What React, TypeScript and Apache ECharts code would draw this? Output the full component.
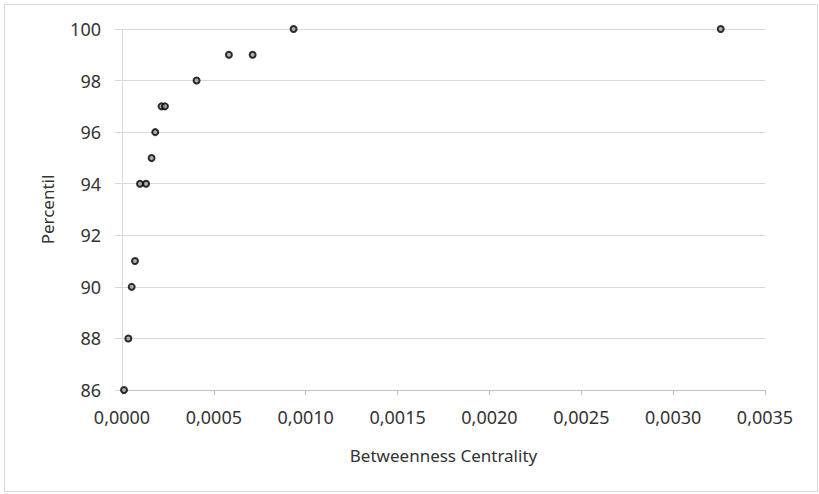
import React, { useEffect, useRef } from "react";
import * as echarts from "echarts";

const xTicks = [0, 0.0005, 0.001, 0.0015, 0.002, 0.0025, 0.003, 0.0035];
const yTicks = [86, 88, 90, 92, 94, 96, 98, 100];
const centrality = [
  0.0000109, 0.0000344, 0.0000527, 0.0000707, 0.000098, 0.000131, 0.000161,
  0.000181, 0.000215, 0.000234, 0.000406, 0.000582, 0.000711, 0.000934, 0.003259,
];
const percentil = [86, 88, 90, 91, 94, 94, 95, 96, 97, 97, 98, 99, 99, 100, 100];

const font = "'Noto Sans', sans-serif";

export default function App() {
  const ref = useRef<HTMLDivElement>(null);
  useEffect(() => {
    if (!ref.current) return;
    const chart = echarts.init(ref.current, undefined, { renderer: "svg" });
    const data = centrality.map((x, i) => [x, percentil[i]]);
    chart.setOption({
      animation: false,
      backgroundColor: "#ffffff",
      graphic: [
        {
          type: "rect",
          shape: { x: 4.5, y: 4.5, width: 813, height: 487 },
          style: { fill: "none", stroke: "#d9d9d9", lineWidth: 1 },
          silent: true,
        },
      ],
      grid: { left: 122, right: 54, top: 29, bottom: 104 },
      xAxis: {
        type: "value",
        min: xTicks[0],
        max: xTicks[xTicks.length - 1],
        interval: 0.0005,
        name: "Betweenness Centrality",
        nameLocation: "middle",
        nameGap: 57,
        nameTextStyle: { fontFamily: font, fontSize: 17, color: "#333333" },
        axisLine: { show: true, lineStyle: { color: "#bfbfbf", width: 1 } },
        axisTick: { show: true, length: 5, lineStyle: { color: "#bfbfbf" } },
        splitLine: { show: false },
        axisLabel: {
          fontFamily: font,
          fontSize: 18,
          color: "#333333",
          margin: 18,
          formatter: (v: number) => v.toFixed(4).replace(".", ","),
        },
      },
      yAxis: {
        type: "value",
        min: yTicks[0],
        max: yTicks[yTicks.length - 1],
        interval: 2,
        name: "Percentil",
        nameLocation: "middle",
        nameGap: 66,
        nameTextStyle: { fontFamily: font, fontSize: 17, color: "#333333" },
        axisLine: { show: true, lineStyle: { color: "#d9d9d9", width: 1 } },
        axisTick: { show: true, length: 7, lineStyle: { color: "#d9d9d9" } },
        splitLine: { show: true, lineStyle: { color: "#d9d9d9", width: 1 } },
        axisLabel: {
          fontFamily: font,
          fontSize: 18,
          color: "#333333",
          margin: 21,
        },
      },
      series: [
        {
          type: "scatter",
          data,
          symbol: "circle",
          symbolSize: 6,
          itemStyle: { color: "#9a9a9a", borderColor: "#000000", borderWidth: 2 },
        },
      ],
    });
    return () => chart.dispose();
  }, []);
  return (
    <div
      ref={ref}
      style={{ position: "fixed", left: 0, top: 0, width: 819, height: 494 }}
    />
  );
}
